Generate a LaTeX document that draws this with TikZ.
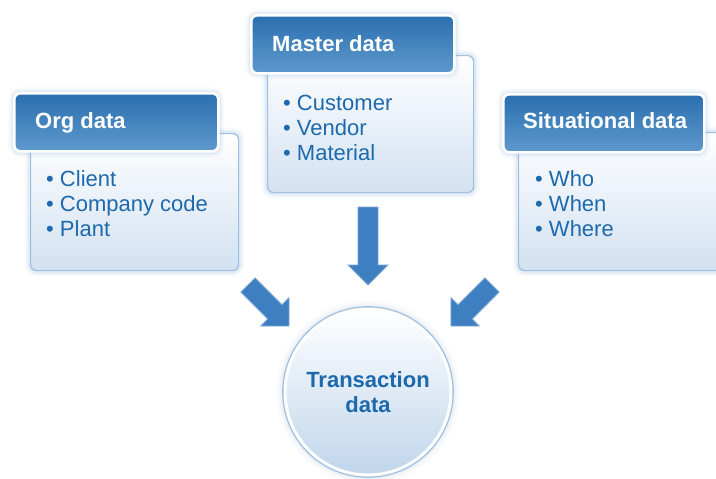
\documentclass[tikz,border=0pt]{standalone}
\usepackage{fontspec}
\setmainfont{Liberation Sans}
\definecolor{hdtop}{HTML}{2A6FAF}
\definecolor{hdbot}{HTML}{5F99CD}
\definecolor{bodybot}{HTML}{D2E1F1}
\definecolor{bodyline}{HTML}{9FBFDF}
\definecolor{txtblue}{HTML}{1C69AD}
\definecolor{arrowblue}{HTML}{3D7FC0}
\definecolor{arrowedge}{HTML}{7EA9D5}
\definecolor{glowc}{HTML}{9DBEE0}
\definecolor{circbot}{HTML}{C0D5EB}
\tikzset{
  glow/.style={preaction={draw=glowc, line width=12pt, opacity=0.07},
               preaction={draw=glowc, line width=8pt, opacity=0.1},
               preaction={draw=glowc, line width=5pt, opacity=0.15}},
  bodybox/.style={glow, rectangle, rounded corners=6pt, anchor=north west, inner sep=0pt,
    top color=white, bottom color=bodybot, draw=bodyline, line width=1.2pt},
  hdbox/.style={glow, rectangle, rounded corners=6pt, anchor=north west, inner sep=0pt,
    top color=hdtop, bottom color=hdbot, draw=white, line width=2.6pt},
  hdtext/.style={anchor=base west, inner sep=0pt, text=white,
    font=\fontsize{22}{26}\selectfont\bfseries},
  bullet/.style={anchor=base west, inner sep=0pt, text=txtblue,
    font=\fontsize{22}{26}\selectfont},
  circbox/.style={preaction={draw=glowc, line width=18pt, opacity=0.06}, glow,
    circle, inner sep=0pt, minimum size=166pt,
    preaction={draw=bodyline, line width=5.6pt},
    top color=white, bottom color=circbot, draw=white, line width=3pt},
  circtext/.style={anchor=base, inner sep=0pt, text=txtblue,
    font=\fontsize{22}{26}\selectfont\bfseries},
  blockarrow/.style={fill=arrowblue, draw=arrowedge, line width=0.9pt, line join=miter}
}
\newcommand\blockarr[4]{%
  \path[blockarrow, shift={(#1,#2)}, rotate=#3]
    (-10,0) -- (10,0) -- (10,#4-20) -- (20,#4-20) -- (0,#4)
    -- (-20,#4-20) -- (-10,#4-20) -- cycle;}
\begin{document}
\begin{tikzpicture}[x=1pt,y=-1pt]
\useasboundingbox (0,0) rectangle (716,479);
\clip (0,0) rectangle (716,479);
\fill[white] (0,0) rectangle (716,479);

% bodies
\node[bodybox, minimum width=208pt, minimum height=137pt] (bOrg) at (30,133) {};
\node[bodybox, minimum width=206pt, minimum height=137pt] (bMaster) at (267,55) {};
\node[bodybox, minimum width=222pt, minimum height=138pt] (bSit) at (518,132) {};

% headers
\node[hdbox, minimum width=204pt, minimum height=58pt] (hOrg) at (13,92) {};
\node[hdbox, minimum width=203pt, minimum height=58pt] (hMaster) at (250,14) {};
\node[hdbox, minimum width=201pt, minimum height=58pt] (hSit) at (502,93) {};

\node[hdtext] (tOrg) at (35,128) {Org data};
\node[hdtext] (tMaster) at (272,52) {Master data};
\node[hdtext] (tSit) at (523,128) {Situational data};

% bullet lists
\node[bullet] (o1) at (46,186) {• Client};
\node[bullet] (o2) at (46,211) {• Company code};
\node[bullet] (o3) at (46,236) {• Plant};

\node[bullet] (m1) at (283,110) {• Customer};
\node[bullet] (m2) at (283,135) {• Vendor};
\node[bullet] (m3) at (283,160) {• Material};

\node[bullet] (s1) at (535,186) {• Who};
\node[bullet] (s2) at (535,211) {• When};
\node[bullet] (s3) at (535,236) {• Where};

% arrows
\blockarr{368}{207}{0}{78}
\blockarr{248}{285}{45}{58}
\blockarr{492}{285}{-45}{58}

% circle
\node[circbox] (trans) at (368,392) {};
\node[circtext] (tr1) at (368,387) {Transaction};
\node[circtext] (tr2) at (368,412) {data};
\end{tikzpicture}
\end{document}
